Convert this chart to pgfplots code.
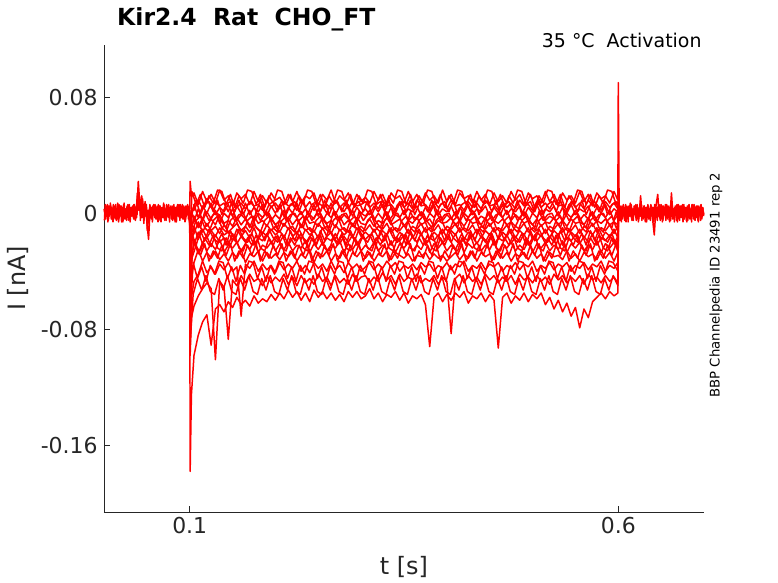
\documentclass[border=0pt]{standalone}
\usepackage{pgfplots}
\pgfplotsset{compat=1.18}
\usepackage{pgfplotstable}
\usepackage{fontspec}
\setmainfont{DejaVu Sans}
\definecolor{axgray}{rgb}{0.15,0.15,0.15}

% step region: x in ms, currents in pA (0.001 nA)
\pgfplotstableread{
x     a   b   c   d   e   f   g   h   i   j   k   l   m
100   1   0   2   -1  1   0   2   -1  0   1   0   -1  0
100.5 22  -25 -30 -36 -42 -48 -55 -62 -68 -75 -85 -98 -178
102   12  2   -3  -8  -12 -17 -22 -28 -35 -44 -58 -72 -125
105   14  2   6   -6  -2  -14 -9  -22 -19 -34 -47 -64 -98
110   6   9   -3  3   -10 -6  -18 -13 -28 -25 -42 -57 -84
115   15  3   5   -5  -3  -13 -11 -21 -20 -33 -33 -52 -75
120   8   10  0   1   -9  -7  -17 -16 -26 -27 -41 -48 -70
125   13  4   7   -4  -4  -12 -12 -23 -21 -31 -37 -52 -91
130   7   8   -1  2   -8  -9  -16 -15 -25 -26 -42 -101 -66
135   16  5   4   -7  -1  -14 -10 -20 -18 -32 -35 -47 -63
140   9   7   1   0   -7  -8  -15 -17 -27 -28 -39 -51 -68
145   12  1   6   -3  -5  -13 -13 -22 -22 -33 -34 -87 -61
150   5   9   -2  3   -9  -10 -19 -14 -24 -27 -40 -46 -65
155   14  4   5   -5  -3  -7  -11 -21 -20 -31 -37 -50 -58
160   10  7   0   -1  -8  -12 -16 -16 -26 -25 -71 -43 -63
165   13  3   7   -4  -4  -9  -12 -20 -21 -34 -35 -48 -60
170   6   8   -1  2   -10 -13 -17 -15 -25 -28 -38 -42 -64
175   15  5   4   -6  -2  -8  -10 -22 -19 -30 -33 -47 -57
180   8   6   1   0   -7  -11 -18 -17 -27 -26 -40 -45 -62
185   12  2   6   -3  -5  -14 -13 -19 -22 -33 -35 -50 -59
190   7   9   -2  1   -9  -8  -16 -14 -24 -27 -39 -43 -61
195   14  4   5   -5  -3  -12 -11 -21 -20 -31 -36 -48 -56
200   9   7   0   -1  -8  -9  -15 -16 -26 -28 -41 -44 -60
205   11  3   6   -4  -5  -13 -12 -20 -21 -32 -34 -47 -55
210   6   8   -2  2   -9  -7  -17 -15 -25 -27 -39 -42 -59
215   13  5   4   -6  -3  -11 -10 -22 -20 -30 -35 -49 -53
220   8   6   0   0   -8  -9  -16 -17 -26 -26 -38 -44 -58
225   15  2   7   -3  -4  -14 -13 -19 -22 -33 -33 -50 -54
230   7   9   -1  1   -10 -8  -18 -14 -24 -28 -40 -43 -60
235   12  4   3   -5  -2  -12 -11 -21 -19 -31 -36 -48 -55
240   10  8   -1  -1  -7  -10 -15 -16 -27 -25 -41 -45 -61
245   14  2   6   -4  -6  -13 -12 -20 -21 -34 -34 -49 -53
250   5   7   -2  3   -9  -7  -17 -15 -25 -27 -38 -42 -58
255   13  5   5   -6  -3  -11 -10 -22 -20 -30 -35 -47 -54
260   9   6   0   0   -7  -9  -16 -17 -26 -26 -40 -44 -59
265   16  3   7   -3  -5  -14 -13 -19 -22 -33 -33 -50 -55
270   7   9   -1  1   -10 -8  -18 -14 -24 -28 -39 -43 -60
275   12  4   5   -5  -2  -12 -11 -21 -19 -31 -36 -48 -56
280   9   7   1   -1  -8  -10 -15 -16 -27 -25 -41 -45 -61
285   14  3   6   -4  -5  -13 -12 -20 -21 -34 -34 -49 -54
290   6   8   -2  2   -9  -7  -17 -15 -25 -27 -38 -42 -58
295   13  5   4   -6  -3  -11 -10 -22 -20 -30 -35 -47 -54
300   8   6   0   0   -7  -9  -16 -17 -26 -26 -40 -44 -59
305   11  8   3   -2  -8  -12 -13 -18 -22 -31 -37 -43 -57
310   7   4   -1  2   -4  -8  -16 -15 -25 -27 -34 -48 -52
315   15  7   5   -5  -9  -13 -11 -21 -20 -33 -39 -44 -59
320   9   3   1   0   -5  -9  -17 -16 -26 -28 -35 -47 -55
325   13  9   6   -4  -7  -11 -12 -20 -22 -30 -38 -41 -61
330   6   5   -2  1   -3  -7  -15 -14 -25 -26 -33 -46 -56
335   14  6   4   -6  -8  -13 -10 -22 -19 -32 -37 -43 -58
340   10  2   0   -1  -6  -10 -18 -17 -27 -27 -34 -49 -54
345   12  8   7   -3  -4  -12 -13 -19 -21 -29 -40 -42 -60
350   7   4   -1  2   -9  -8  -16 -15 -24 -31 -36 -47 -55
355   15  7   3   -5  -5  -14 -11 -21 -20 -28 -38 -44 -62
360   8   3   1   -2  -7  -9  -17 -16 -26 -33 -35 -46 -57
365   13  9   5   -4  -3  -11 -12 -20 -22 -29 -39 -42 -59
370   6   5   -2  1   -8  -7  -15 -14 -25 -30 -34 -48 -56
375   14  6   4   -6  -6  -13 -10 -22 -19 -27 -37 -45 -63
380   9   2   0   0   -4  -10 -18 -17 -27 -32 -35 -47 -92
385   12  8   6   -3  -9  -12 -13 -19 -21 -28 -40 -43 -58
390   7   4   -1  2   -5  -8  -16 -15 -24 -31 -36 -49 -55
395   16  7   3   -5  -7  -14 -11 -21 -20 -29 -38 -44 -61
400   8   3   1   -1  -6  -9  -17 -16 -26 -33 -34 -47 -56
405   13  9   5   -4  -3  -11 -12 -20 -22 -30 -39 -83 -60
410   6   5   -2  1   -8  -7  -15 -14 -25 -27 -35 -45 -55
415   14  6   4   -6  -5  -13 -10 -22 -19 -32 -37 -42 -58
420   10  2   0   0   -9  -10 -18 -17 -27 -28 -33 -48 -54
425   12  8   6   -3  -4  -12 -13 -19 -21 -31 -40 -43 -62
430   7   4   -1  2   -7  -8  -16 -15 -24 -26 -36 -47 -57
435   15  7   3   -5  -6  -14 -11 -21 -20 -33 -38 -44 -59
440   9   3   1   -2  -8  -9  -17 -16 -26 -27 -34 -49 -55
445   13  9   5   -4  -3  -11 -12 -20 -22 -30 -39 -42 -61
450   6   5   -2  1   -9  -7  -15 -14 -25 -28 -35 -46 -56
455   14  6   4   -6  -5  -13 -10 -22 -19 -32 -37 -43 -60
460   8   2   0   0   -7  -10 -18 -17 -27 -26 -34 -48 -93
465   12  8   6   -3  -4  -12 -13 -19 -21 -31 -40 -44 -58
470   7   4   -1  2   -8  -8  -16 -15 -24 -27 -36 -47 -55
475   15  7   3   -5  -6  -14 -11 -21 -20 -33 -38 -43 -62
480   9   3   1   -1  -9  -9  -17 -16 -26 -28 -34 -49 -57
485   13  9   5   -4  -3  -11 -12 -20 -22 -30 -39 -42 -60
490   6   5   -2  1   -7  -7  -15 -14 -25 -27 -35 -46 -55
495   14  6   4   -6  -5  -13 -10 -22 -19 -32 -37 -44 -61
500   10  2   0   0   -8  -10 -18 -17 -27 -26 -33 -48 -56
505   12  8   6   -3  -4  -12 -13 -19 -21 -31 -40 -43 -59
510   7   4   -1  2   -9  -8  -16 -15 -24 -28 -36 -47 -55
515   15  7   3   -5  -6  -14 -11 -21 -20 -33 -38 -44 -63
520   8   3   1   -2  -7  -9  -17 -16 -26 -27 -34 -49 -58
525   13  9   5   -4  -3  -11 -12 -20 -22 -30 -39 -42 -66
530   6   5   -2  1   -8  -7  -15 -14 -25 -29 -35 -46 -60
535   14  6   4   -6  -5  -13 -10 -22 -19 -32 -37 -43 -68
540   9   2   0   0   -9  -10 -18 -17 -27 -26 -34 -48 -62
545   12  8   6   -3  -4  -12 -13 -19 -21 -31 -40 -44 -71
550   7   4   -1  2   -7  -8  -16 -15 -24 -28 -36 -47 -65
555   15  7   3   -5  -6  -14 -11 -21 -20 -33 -38 -43 -79
560   8   3   1   -1  -8  -9  -17 -16 -26 -27 -34 -49 -66
565   13  9   5   -4  -3  -11 -12 -20 -22 -30 -39 -42 -72
570   6   5   -2  1   -9  -7  -15 -14 -25 -28 -35 -46 -61
575   14  6   4   -6  -5  -13 -10 -22 -19 -32 -37 -44 -58
580   10  2   0   0   -7  -10 -18 -17 -27 -26 -33 -48 -55
585   12  8   6   -3  -4  -12 -13 -19 -21 -31 -40 -43 -59
590   7   4   -1  2   -8  -8  -16 -15 -24 -27 -36 -47 -54
595   15  7   3   -5  -6  -14 -11 -21 -20 -33 -38 -44 -57
599.5 9   3   1   -1  -8  -9  -17 -16 -26 -27 -34 -48 -55
600   90  5   3   2   4   1   3   2   4   1   3   2   4
601   2   1   2   0   1   2   0   1   2   0   1   2   0
}\steptable

% seven further sweeps, sampled between the rows above
\pgfplotstableread{
x     p   q   r   s   t   u   v
100   0   1   0   1   0   1   0
100.5 -30 -40 -50 -55 -65 -70 -80
102.5 15  1   0   -13 -14 -15 -31
107.5 6   9   -6  -5  -22 -24 -22
112.5 13  -1  -10 -2  -12 -26 -29
117.5 4   6   1   -10 -19 -17 -21
122.5 12  8   -5  -13 -11 -22 -33
127.5 7   1   -1  -5  -17 -15 -26
132.5 16  9   0   -2  -20 -24 -31
137.5 15  -1  -6  -10 -14 -26 -22
142.5 6   6   -10 -13 -22 -17 -29
147.5 13  8   1   -5  -12 -22 -21
152.5 4   1   -5  -2  -19 -15 -33
157.5 12  9   -1  -10 -11 -24 -26
162.5 7   -1  0   -13 -17 -26 -31
167.5 16  6   -6  -5  -20 -17 -22
172.5 15  8   -10 -2  -14 -22 -29
177.5 6   1   1   -10 -22 -15 -21
182.5 13  9   -5  -13 -12 -24 -33
187.5 4   -1  -1  -5  -19 -26 -26
192.5 12  6   0   -2  -11 -17 -31
197.5 7   8   -6  -10 -17 -22 -22
202.5 16  1   -10 -13 -20 -15 -29
207.5 15  9   1   -5  -14 -24 -21
212.5 6   -1  -5  -2  -22 -26 -33
217.5 13  6   -1  -10 -12 -17 -26
222.5 4   8   0   -13 -19 -22 -31
227.5 12  1   -6  -5  -11 -15 -22
232.5 7   9   -10 -2  -17 -24 -29
237.5 16  -1  1   -10 -20 -26 -21
242.5 15  6   -5  -13 -14 -17 -33
247.5 6   8   -1  -5  -22 -22 -26
252.5 13  1   0   -2  -12 -15 -31
257.5 4   9   -6  -10 -19 -24 -22
262.5 12  -1  -10 -13 -11 -26 -29
267.5 7   6   1   -5  -17 -17 -21
272.5 16  8   -5  -2  -20 -22 -33
277.5 15  1   -1  -10 -14 -15 -26
282.5 6   9   0   -13 -22 -24 -31
287.5 13  -1  -6  -5  -12 -26 -22
292.5 4   6   -10 -2  -19 -17 -29
297.5 12  8   1   -10 -11 -22 -21
302.5 7   1   -5  -13 -17 -15 -33
307.5 16  9   -1  -5  -20 -24 -26
312.5 15  -1  0   -2  -14 -26 -31
317.5 6   6   -6  -10 -22 -17 -22
322.5 13  8   -10 -13 -12 -22 -29
327.5 4   1   1   -5  -19 -15 -21
332.5 12  9   -5  -2  -11 -24 -33
337.5 7   -1  -1  -10 -17 -26 -26
342.5 16  6   0   -13 -20 -17 -31
347.5 15  8   -6  -5  -14 -22 -22
352.5 6   1   -10 -2  -22 -15 -29
357.5 13  9   1   -10 -12 -24 -21
362.5 4   -1  -5  -13 -19 -26 -33
367.5 12  6   -1  -5  -11 -17 -26
372.5 7   8   0   -2  -17 -22 -31
377.5 16  1   -6  -10 -20 -15 -22
382.5 15  9   -10 -13 -14 -24 -29
387.5 6   -1  1   -5  -22 -26 -21
392.5 13  6   -5  -2  -12 -17 -33
397.5 4   8   -1  -10 -19 -22 -26
402.5 12  1   0   -13 -11 -15 -31
407.5 7   9   -6  -5  -17 -24 -22
412.5 16  -1  -10 -2  -20 -26 -29
417.5 15  6   1   -10 -14 -17 -21
422.5 6   8   -5  -13 -22 -22 -33
427.5 13  1   -1  -5  -12 -15 -26
432.5 4   9   0   -2  -19 -24 -31
437.5 12  -1  -6  -10 -11 -26 -22
442.5 7   6   -10 -13 -17 -17 -29
447.5 16  8   1   -5  -20 -22 -21
452.5 15  1   -5  -2  -14 -15 -33
457.5 6   9   -1  -10 -22 -24 -26
462.5 13  -1  0   -13 -12 -26 -31
467.5 4   6   -6  -5  -19 -17 -22
472.5 12  8   -10 -2  -11 -22 -29
477.5 7   1   1   -10 -17 -15 -21
482.5 16  9   -5  -13 -20 -24 -33
487.5 15  -1  -1  -5  -14 -26 -26
492.5 6   6   0   -2  -22 -17 -31
497.5 13  8   -6  -10 -12 -22 -22
502.5 4   1   -10 -13 -19 -15 -29
507.5 12  9   1   -5  -11 -24 -21
512.5 7   -1  -5  -2  -17 -26 -33
517.5 16  6   -1  -10 -20 -17 -26
522.5 15  8   0   -13 -14 -22 -31
527.5 6   1   -6  -5  -22 -15 -22
532.5 13  9   -10 -2  -12 -24 -29
537.5 4   -1  1   -10 -19 -26 -21
542.5 12  6   -5  -13 -11 -17 -33
547.5 7   8   -1  -5  -17 -22 -26
552.5 16  1   0   -2  -20 -15 -31
557.5 15  9   -6  -10 -14 -24 -22
562.5 6   -1  -10 -13 -22 -26 -29
567.5 13  6   1   -5  -12 -17 -21
572.5 4   8   -5  -2  -19 -22 -33
577.5 12  1   -1  -10 -11 -15 -26
582.5 7   9   0   -13 -17 -24 -31
587.5 16  -1  -6  -5  -20 -26 -22
592.5 15  6   -10 -2  -14 -17 -29
597.5 6   8   1   -10 -22 -22 -21
599.7 8   3   -3  -8  -16 -21 -27
600.2 2   2   1   2   1   2   1
}\steptableb

% two further, noisier sweeps in the lower part of the band
\pgfplotstableread{
x     w   y
100   0   0
100.5 -70 -90
104   -34 -56
109   -45 -45
114   -37 -53
119   -47 -43
124   -36 -54
129   -42 -56
134   -33 -45
139   -34 -53
144   -45 -43
149   -37 -54
154   -47 -56
159   -36 -45
164   -42 -53
169   -33 -43
174   -34 -54
179   -45 -56
184   -37 -45
189   -47 -53
194   -36 -43
199   -42 -54
204   -33 -56
209   -34 -45
214   -45 -53
219   -37 -43
224   -47 -54
229   -36 -56
234   -42 -45
239   -33 -53
244   -34 -43
249   -45 -54
254   -37 -56
259   -47 -45
264   -36 -53
269   -42 -43
274   -33 -54
279   -34 -56
284   -45 -45
289   -37 -53
294   -47 -43
299   -36 -54
304   -42 -56
309   -33 -45
314   -34 -53
319   -45 -43
324   -37 -54
329   -47 -56
334   -36 -45
339   -42 -53
344   -33 -43
349   -34 -54
354   -45 -56
359   -37 -45
364   -47 -53
369   -36 -43
374   -42 -54
379   -33 -56
384   -34 -45
389   -45 -53
394   -37 -43
399   -47 -54
404   -36 -56
409   -42 -45
414   -33 -53
419   -34 -43
424   -45 -54
429   -37 -56
434   -47 -45
439   -36 -53
444   -42 -43
449   -33 -54
454   -34 -56
459   -45 -45
464   -37 -53
469   -47 -43
474   -36 -54
479   -42 -56
484   -33 -45
489   -34 -53
494   -45 -43
499   -37 -54
504   -47 -56
509   -36 -45
514   -42 -53
519   -33 -43
524   -34 -54
529   -45 -56
534   -37 -45
539   -47 -53
544   -36 -43
549   -42 -54
554   -33 -56
559   -34 -45
564   -45 -53
569   -37 -43
574   -47 -54
579   -36 -56
584   -42 -45
589   -33 -53
594   -34 -43
599.6 -40 -50
600.3 1   2
}\steptablec

\begin{document}
\begin{tikzpicture}[x=1bp,y=1bp]
\useasboundingbox (-104,-71) rectangle (674,512);
\begin{axis}[
  at={(0,0)}, anchor=south west,
  scale only axis, width=600bp, height=467bp,
  xmin=0, xmax=700, ymin=-206, ymax=116,
  axis x line*=bottom, axis y line*=left,
  axis line style={axgray, line width=0.6pt},
  tick style={axgray, line width=0.6pt},
  tick align=inside, major tick length=6bp,
  xtick={100,600}, xticklabels={0.1,0.6},
  ytick={-160,-80,0,80}, yticklabels={-0.16,-0.08,0,0.08},
  /pgf/number format/assume math mode=true,
  ticklabel style={font=\fontsize{22}{26}\selectfont, text=axgray},
  xticklabel style={yshift=-2bp},
  yticklabel style={xshift=-3bp},
  xlabel={t [s]}, ylabel={I [nA]},
  label style={font=\fontsize{24}{28}\selectfont, text=axgray},
  xlabel style={at={(axis description cs:0.5,-0.118)}, anchor=center},
  ylabel style={at={(axis description cs:-0.143,0.5)}, anchor=center},
  cycle list={red,solid,mark=none,line width=1.5pt,line join=round\\},
  clip=false,
]
\foreach \c in {a,b,c,d,e,f,g,h,i,j,k,l,m}{
  \addplot table[x=x, y=\c] {\steptable};
}
\foreach \c in {p,q,r,s,t,u,v}{
  \addplot table[x=x, y=\c] {\steptableb};
}
\foreach \c in {w,y}{
  \addplot table[x=x, y=\c] {\steptablec};
}
% baseline before the step
\addplot coordinates {(0,3)(2,-4)(4,6)(6,-2)(8,5)(10,-5)(12,4)(14,-1)(16,7)(18,-3)(20,5)(22,-6)(24,3)(26,0)(28,6)(30,-4)(32,4)(34,-2)(36,5)(38,-3)(40,22)(42,4)(44,12)(46,-3)(48,8)(50,-6)(52,-18)(54,5)(56,-4)(58,6)(60,-2)(62,5)(64,-5)(66,3)(68,-1)(70,6)(72,-4)(74,4)(76,-2)(78,5)(80,-5)(82,3)(84,0)(86,6)(88,-3)(90,5)(92,-4)(94,4)(96,-2)(98,5)(100,1)};
\addplot coordinates {(1,-3)(3,5)(5,-5)(7,4)(9,-2)(11,6)(13,-4)(15,3)(17,-6)(19,4)(21,0)(23,6)(25,-3)(27,5)(29,-5)(31,3)(33,-1)(35,6)(37,-4)(39,14)(41,8)(43,-2)(45,10)(47,-4)(49,6)(51,-9)(53,3)(55,-4)(57,5)(59,-3)(61,4)(63,-6)(65,5)(67,-2)(69,4)(71,-5)(73,6)(75,-3)(77,3)(79,-4)(81,5)(83,-6)(85,4)(87,-1)(89,6)(91,-3)(93,5)(95,-5)(97,3)(99,-2)};
\addplot coordinates {(0.5,-5)(1.5,6)(2.5,-2)(3.5,4)(4.5,-6)(5.5,5)(6.5,-1)(7.5,7)(8.5,-4)(9.5,3)(10.5,-6)(11.5,5)(12.5,-3)(13.5,6)(14.5,-5)(15.5,2)(16.5,-4)(17.5,6)(18.5,-2)(19.5,5)(20.5,-6)(21.5,4)(22.5,-1)(23.5,7)(24.5,-4)(25.5,3)(26.5,-5)(27.5,5)(28.5,-3)(29.5,6)(30.5,-6)(31.5,4)(32.5,-2)(33.5,5)(34.5,-4)(35.5,6)(36.5,-5)(37.5,3)(38.5,-1)(39.5,16)(40.5,2)(41.5,9)(42.5,-5)(43.5,7)(44.5,-3)(45.5,5)(46.5,-7)(47.5,4)(48.5,-2)(49.5,6)(50.5,-12)(51.5,2)(52.5,-5)(53.5,6)(54.5,-3)(55.5,4)(56.5,-6)(57.5,5)(58.5,-1)(59.5,6)(60.5,-4)(61.5,3)(62.5,-5)(63.5,6)(64.5,-2)(65.5,5)(66.5,-6)(67.5,4)(68.5,-3)(69.5,7)(70.5,-4)(71.5,3)(72.5,-5)(73.5,5)(74.5,-2)(75.5,6)(76.5,-6)(77.5,4)(78.5,-1)(79.5,5)(80.5,-4)(81.5,6)(82.5,-3)(83.5,4)(84.5,-6)(85.5,5)(86.5,-2)(87.5,6)(88.5,-5)(89.5,3)(90.5,-3)(91.5,6)(92.5,-4)(93.5,4)(94.5,-6)(95.5,5)(96.5,-1)(97.5,6)(98.5,-4)(99.5,3)};
% baseline after the step
\addplot coordinates {(601,2)(602,4)(604,-3)(606,6)(608,-4)(610,5)(612,-2)(614,7)(616,-5)(618,3)(620,-1)(622,6)(624,-4)(626,12)(628,-3)(630,5)(632,-5)(634,4)(636,-2)(638,6)(640,-4)(642,-15)(644,5)(646,13)(648,-3)(650,6)(652,-5)(654,4)(656,-2)(658,5)(660,-6)(662,14)(664,-3)(666,4)(668,-5)(670,6)(672,-2)(674,5)(676,-4)(678,3)(680,-6)(682,5)(684,-1)(686,6)(688,-4)(690,4)(692,-3)(694,5)(696,-5)(698,4)(700,-1)};
\addplot coordinates {(601,-2)(603,5)(605,-4)(607,3)(609,-6)(611,4)(613,-1)(615,6)(617,-3)(619,5)(621,-5)(623,3)(625,-2)(627,6)(629,-4)(631,4)(633,-6)(635,5)(637,-1)(639,3)(641,-5)(643,6)(645,-3)(647,4)(649,-5)(651,5)(653,-2)(655,6)(657,-4)(659,3)(661,-5)(663,5)(665,-2)(667,4)(669,-6)(671,5)(673,-1)(675,6)(677,-4)(679,3)(681,-5)(683,4)(685,-2)(687,6)(689,-3)(691,5)(693,-5)(695,3)(697,-2)(699,4)};
\addplot coordinates {(600.5,6)(601.5,-5)(602.5,3)(603.5,-6)(604.5,5)(605.5,-1)(606.5,4)(607.5,-5)(608.5,6)(609.5,-3)(610.5,4)(611.5,-6)(612.5,5)(613.5,-2)(614.5,6)(615.5,-4)(616.5,3)(617.5,-5)(618.5,5)(619.5,-1)(620.5,6)(621.5,-4)(622.5,3)(623.5,-6)(624.5,4)(625.5,-2)(626.5,6)(627.5,-5)(628.5,3)(629.5,-3)(630.5,5)(631.5,-6)(632.5,4)(633.5,-1)(634.5,6)(635.5,-4)(636.5,3)(637.5,-5)(638.5,5)(639.5,-2)(640.5,4)(641.5,-6)(642.5,6)(643.5,-3)(644.5,4)(645.5,-5)(646.5,5)(647.5,-2)(648.5,6)(649.5,-4)(650.5,3)(651.5,-6)(652.5,5)(653.5,-1)(654.5,4)(655.5,-5)(656.5,6)(657.5,-3)(658.5,4)(659.5,-5)(660.5,5)(661.5,-2)(662.5,6)(663.5,-4)(664.5,3)(665.5,-6)(666.5,5)(667.5,-1)(668.5,6)(669.5,-4)(670.5,3)(671.5,-5)(672.5,5)(673.5,-3)(674.5,4)(675.5,-6)(676.5,6)(677.5,-2)(678.5,4)(679.5,-5)(680.5,5)(681.5,-1)(682.5,6)(683.5,-4)(684.5,3)(685.5,-6)(686.5,5)(687.5,-2)(688.5,6)(689.5,-5)(690.5,3)(691.5,-3)(692.5,5)(693.5,-6)(694.5,4)(695.5,-1)(696.5,6)(697.5,-4)(698.5,3)(699.5,-2)};
% texts
\node[anchor=base west, font=\fontsize{23.6}{28}\selectfont\bfseries, inner sep=0pt] at (axis description cs:0.0217,1.0407) {Kir2.4\ \ Rat\ \ CHO\_FT};
\node[anchor=base east, font=\fontsize{19}{22}\selectfont, inner sep=0pt] at (axis description cs:0.9962,0.9944) {35 °C\ \ Activation};
\node[rotate=90, anchor=center, font=\fontsize{13.3}{16}\selectfont, inner sep=0pt] at (axis description cs:1.02,0.486) {BBP Channelpedia ID 23491 rep 2};
\end{axis}
\end{tikzpicture}
\end{document}
